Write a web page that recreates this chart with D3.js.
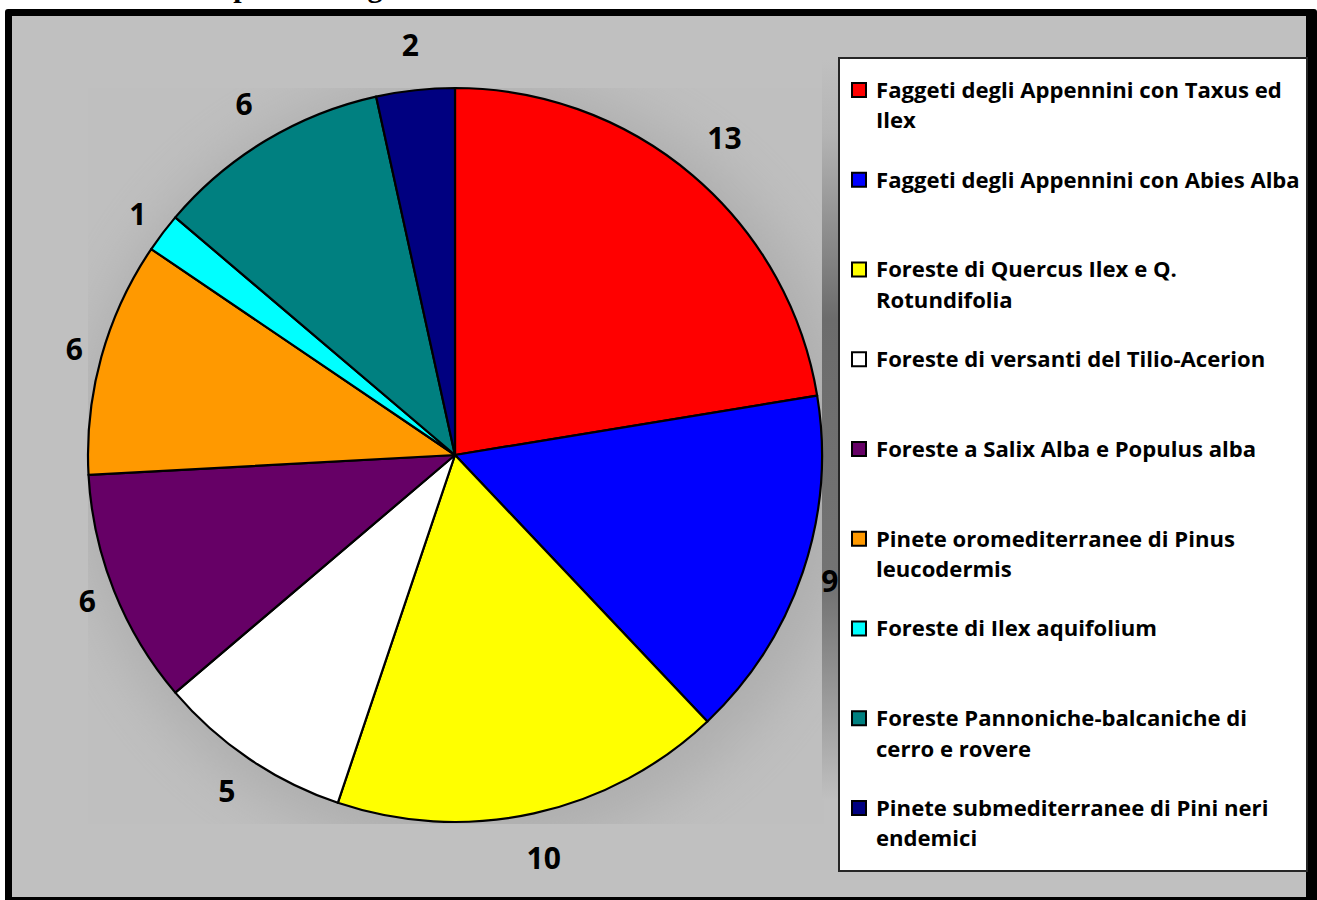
<!DOCTYPE html>
<html>
<head>
<meta charset="utf-8">
<script src="https://cdn.jsdelivr.net/npm/d3@7"></script>
<style>
  html, body { margin: 0; padding: 0; background: #fff; }
  svg { display: block; }
</style>
</head>
<body>
<div id="chart"></div>
<script>
// habitat categories (legend order = slice order, clockwise from 12 o'clock)
const categories = [
  'Faggeti degli Appennini con Taxus ed Ilex',
  'Faggeti degli Appennini con Abies Alba',
  'Foreste di Quercus Ilex e Q. Rotundifolia',
  'Foreste di versanti del Tilio-Acerion',
  'Foreste a Salix Alba e Populus alba',
  'Pinete oromediterranee di Pinus leucodermis',
  'Foreste di Ilex aquifolium',
  'Foreste Pannoniche-balcaniche di cerro e rovere',
  'Pinete submediterranee di Pini neri endemici'
];
// legend text as it wraps in the original
const legendLines = [
  ['Faggeti degli Appennini con Taxus ed', 'Ilex'],
  ['Faggeti degli Appennini con Abies Alba'],
  ['Foreste di Quercus Ilex e Q.', 'Rotundifolia'],
  ['Foreste di versanti del Tilio-Acerion'],
  ['Foreste a Salix Alba e Populus alba'],
  ['Pinete oromediterranee di Pinus', 'leucodermis'],
  ['Foreste di Ilex aquifolium'],
  ['Foreste Pannoniche-balcaniche di', 'cerro e rovere'],
  ['Pinete submediterranee di Pini neri', 'endemici']
];
const values = [13, 9, 10, 5, 6, 6, 1, 6, 2];
const colors = ['#ff0000', '#0000ff', '#ffff00', '#ffffff', '#660066', '#ff9900', '#00ffff', '#008080', '#000080'];

const W = 1317, H = 900;
const cx = 455, cy = 455, R = 367;
const font = '"Open Sans", "Noto Sans", sans-serif';

const svg = d3.select('#chart').append('svg')
  .attr('width', W)
  .attr('height', H);

const defs = svg.append('defs');

// soft shadow behind the pie
defs.append('filter').attr('id', 'blur')
  .attr('x', '-50%').attr('y', '-50%').attr('width', '200%').attr('height', '200%')
  .append('feGaussianBlur').attr('stdDeviation', 28);

// dark strip between plot and legend
const grad = defs.append('linearGradient').attr('id', 'strip')
  .attr('x1', 0).attr('y1', 0).attr('x2', 0).attr('y2', 1);
[[0, '#c0c0c0'], [0.1, '#b4b4b4'], [0.35, '#6c6c6c'], [0.72, '#747474'], [0.9, '#a4a4a4'], [1, '#c0c0c0']]
  .forEach(([o, c]) => grad.append('stop').attr('offset', o).attr('stop-color', c));

defs.append('clipPath').attr('id', 'plotClip')
  .append('rect').attr('x', 88).attr('y', 88).attr('width', 736).attr('height', 736);

// title (cut off by the top of the picture, as in the original)
svg.append('text')
  .attr('x', 200)
  .attr('y', -3)
  .style('font-family', '"Liberation Serif", serif')
  .style('font-weight', 'bold')
  .style('font-size', '30px')
  .text('Superficie degli habitat');

// frame with heavy black border
svg.append('rect')
  .attr('x', 5).attr('y', 9)
  .attr('width', W - 5).attr('height', H)
  .attr('rx', 3)
  .attr('fill', '#000');
svg.append('rect')
  .attr('x', 12).attr('y', 16)
  .attr('width', 1294).attr('height', 881)
  .attr('fill', '#c0c0c0');

// plot area shading
svg.append('rect')
  .attr('x', 88).attr('y', 88)
  .attr('width', 736).attr('height', 736)
  .attr('fill', '#bfbfbf');
svg.append('g')
  .attr('clip-path', 'url(#plotClip)')
  .append('circle')
  .attr('cx', cx + 10).attr('cy', cy + 10)
  .attr('r', R + 20)
  .attr('fill', '#9a9a9a')
  .attr('opacity', 0.45)
  .attr('filter', 'url(#blur)');
svg.append('rect')
  .attr('x', 822).attr('y', 60)
  .attr('width', 17).attr('height', 740)
  .attr('fill', 'url(#strip)');

// pie
const pie = d3.pie().sort(null).value(d => d)
  .startAngle(0).endAngle(2 * Math.PI);
const arcs = pie(values);
const arc = d3.arc().innerRadius(0).outerRadius(R);

const g = svg.append('g').attr('transform', `translate(${cx},${cy})`);

g.selectAll('path.slice')
  .data(arcs)
  .enter()
  .append('path')
  .attr('class', 'slice')
  .attr('d', arc)
  .attr('fill', (d, i) => colors[i])
  .attr('stroke', '#000')
  .attr('stroke-width', 2.2)
  .attr('stroke-linejoin', 'round');

// value labels outside the pie, label box touching a ring just outside the edge
const labels = g.selectAll('text.val')
  .data(arcs)
  .enter()
  .append('text')
  .attr('class', 'val')
  .attr('text-anchor', 'middle')
  .attr('dy', '0.36em')
  .style('font-family', font)
  .style('font-weight', 'bold')
  .style('font-size', '30px')
  .attr('fill', '#000')
  .text(d => d.value);

labels.each(function (d) {
  const a = (d.startAngle + d.endAngle) / 2;
  const s = Math.sin(a), c = -Math.cos(a);
  const bw = this.getComputedTextLength() + 14;
  const bh = 66;
  const ext = Math.min(
    Math.abs(s) > 1e-6 ? (bw / 2) / Math.abs(s) : Infinity,
    Math.abs(c) > 1e-6 ? (bh / 2) / Math.abs(c) : Infinity
  );
  const r = R + 12 + ext;
  d3.select(this).attr('x', r * s).attr('y', r * c);
});

// legend
const legend = svg.append('g').attr('class', 'legend');
legend.append('rect')
  .attr('x', 839).attr('y', 58)
  .attr('width', 468).attr('height', 813)
  .attr('fill', '#fff')
  .attr('stroke', '#262626')
  .attr('stroke-width', 2);

// size legend font so the first line spans the same width as the original
const probe = legend.append('text')
  .style('font-family', font).style('font-weight', 'bold').style('font-size', '20px')
  .text(legendLines[0][0]);
const legendSize = 20 * 406 / probe.node().getComputedTextLength();
probe.remove();

const rowStep = 89.75, lineStep = 30.5;
categories.forEach((name, i) => {
  const row = legend.append('g')
    .attr('transform', `translate(0, ${90 + i * rowStep})`);
  row.append('rect')
    .attr('x', 852).attr('y', -7)
    .attr('width', 14).attr('height', 14)
    .attr('fill', colors[i])
    .attr('stroke', '#000')
    .attr('stroke-width', 2);
  row.selectAll('text')
    .data(legendLines[i])
    .enter()
    .append('text')
    .attr('x', 876)
    .attr('y', (d, j) => j * lineStep)
    .attr('dy', '0.36em')
    .style('font-family', font)
    .style('font-weight', 'bold')
    .style('font-size', legendSize + 'px')
    .attr('fill', '#000')
    .text(d => d);
});
</script>
</body>
</html>
